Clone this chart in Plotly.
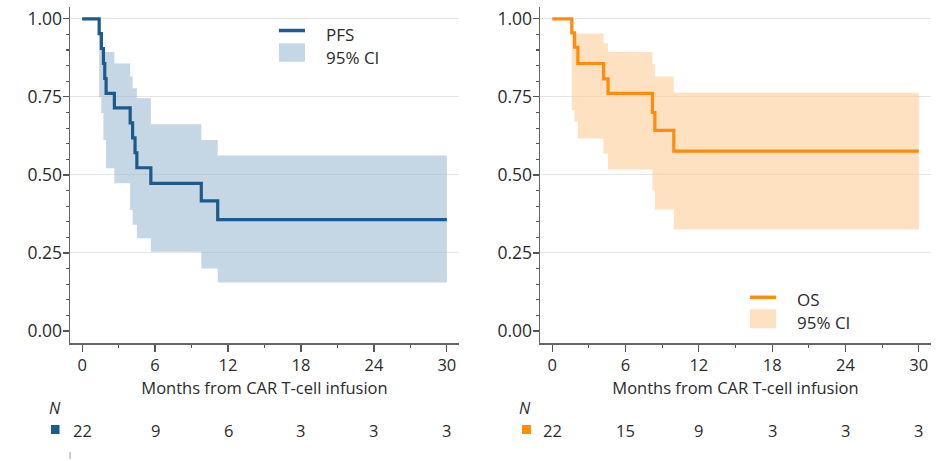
import plotly.graph_objects as go

# ---------------- data ----------------
PFS_T = [0, 1.4, 1.58, 1.75, 1.86, 1.97, 2.65, 3.95, 4.15, 4.35, 4.5, 5.65, 9.8, 11.15]
PFS_S = [1.0, 0.953, 0.905, 0.857, 0.809, 0.761, 0.715, 0.667, 0.619, 0.571, 0.523, 0.473, 0.417, 0.357]
PFS_HI = [1.0, 0.953, 0.905, 0.894, 0.894, 0.894, 0.857, 0.815, 0.778, 0.778, 0.746, 0.662, 0.612, 0.562]
PFS_LO = [1.0, 0.75, 0.698, 0.612, 0.612, 0.521, 0.473, 0.388, 0.34, 0.34, 0.297, 0.254, 0.2, 0.155]

OS_T = [0, 1.6, 1.83, 2.1, 4.2, 4.57, 8.2, 8.4, 9.95]
OS_S = [1.0, 0.955, 0.909, 0.857, 0.808, 0.761, 0.70, 0.643, 0.576]
OS_HI = [1.0, 0.955, 0.953, 0.953, 0.922, 0.894, 0.855, 0.815, 0.763]
OS_LO = [1.0, 0.708, 0.671, 0.617, 0.569, 0.517, 0.45, 0.389, 0.325]

T_END = 30
RISK_TIMES = [0, 6, 12, 18, 24, 30]
PFS_N = [22, 9, 6, 3, 3, 3]
OS_N = [22, 15, 9, 3, 3, 3]
Y_TICKS = [0, 0.25, 0.5, 0.75, 1.0]

# ---------------- styles / layout helpers ----------------
FONT = "Open Sans"
TXT = "#2b2b2b"
BLUE = "#1b5a8a"
BLUE_BAND = "rgba(150,180,205,0.55)"
ORANGE = "#ff8c0a"
ORANGE_BAND = "rgba(251,195,130,0.5)"

W, H, OFF = 938, 461, 0  # body margin removed via post_script


def fx(px):
    return (px - OFF) / W


def fy(py):
    return 1 - (py - OFF) / H


fig = go.Figure()


def add_km(t, s, hi, lo, color, band, xa, ya):
    x = list(t) + [T_END]
    fig.add_trace(go.Scatter(x=x, y=list(hi) + [hi[-1]], mode="lines", line=dict(width=0, shape="hv"),
                             hoverinfo="skip", showlegend=False, xaxis=xa, yaxis=ya))
    fig.add_trace(go.Scatter(x=x, y=list(lo) + [lo[-1]], mode="lines", line=dict(width=0, shape="hv"),
                             fill="tonexty", fillcolor=band, hoverinfo="skip", showlegend=False,
                             xaxis=xa, yaxis=ya))
    fig.add_trace(go.Scatter(x=x, y=list(s) + [s[-1]], mode="lines", line=dict(color=color, width=3.2, shape="hv"),
                             showlegend=False, xaxis=xa, yaxis=ya))


add_km(PFS_T, PFS_S, PFS_HI, PFS_LO, BLUE, BLUE_BAND, "x", "y")
add_km(OS_T, OS_S, OS_HI, OS_LO, ORANGE, ORANGE_BAND, "x2", "y2")

xcommon = dict(range=[-1, 31], tickvals=RISK_TIMES, ticks="outside", ticklen=7, tickwidth=1.2,
               tickcolor="#555", showline=True, linecolor="#666", linewidth=1.5, showgrid=False,
               zeroline=False, minor=dict(dtick=3, tick0=0, ticks="outside", ticklen=3, tickcolor="#555",
                                          tickwidth=1.2),
               tickfont=dict(family=FONT, size=16.5, color=TXT),
               title=dict(text="Months from CAR T-cell infusion", font=dict(family=FONT, size=16.5, color=TXT),
                          standoff=5),
               automargin=False, fixedrange=True)
ycommon = dict(range=[-0.0385, 1.038], tickvals=Y_TICKS, tickformat=".2f", ticks="outside", ticklen=6,
               tickwidth=1.2, tickcolor="#555", showline=True, linecolor="#666", linewidth=1.5,
               showgrid=True, gridcolor="#e6e6e6", gridwidth=1, zeroline=True, zerolinecolor="white",
               zerolinewidth=1, ticklabelstandoff=-3,
               minor=dict(dtick=0.05, tick0=0, ticks="outside", ticklen=3, tickcolor="#555", tickwidth=1.2,
                          showgrid=False),
               tickfont=dict(family=FONT, size=17.5, color=TXT), automargin=False, fixedrange=True,
               domain=[fy(343), fy(7)])

fig.update_layout(
    width=W, height=H,
    margin=dict(l=0, r=0, t=0, b=0),
    paper_bgcolor="white", plot_bgcolor="white",
    showlegend=False,
    xaxis=dict(xcommon, domain=[fx(70), fx(459)], anchor="y"),
    yaxis=dict(ycommon, anchor="x"),
    xaxis2=dict(xcommon, domain=[fx(540), fx(931)], anchor="y2"),
    yaxis2=dict(ycommon, anchor="x2"),
)

shapes = []
annotations = []


def legend(xa, ya, label, color, band, y_line, y_txt, y_sw0, y_sw1, y_ci):
    xr = xa + " domain"
    yr = ya + " domain"
    shapes.append(dict(type="line", xref=xr, yref=yr, x0=0.537, x1=0.604, y0=y_line, y1=y_line,
                       line=dict(color=color, width=3.5)))
    shapes.append(dict(type="rect", xref=xr, yref=yr, x0=0.537, x1=0.604, y0=y_sw0, y1=y_sw1,
                       line=dict(width=0), fillcolor=band))
    annotations.append(dict(xref=xr, yref=yr, x=0.652, y=y_txt, text=label, showarrow=False,
                            xanchor="left", yanchor="middle", font=dict(family=FONT, size=17, color=TXT)))
    annotations.append(dict(xref=xr, yref=yr, x=0.652, y=y_ci, text="95% CI", showarrow=False,
                            xanchor="left", yanchor="middle", font=dict(family=FONT, size=17, color=TXT)))


legend("x", "y", "PFS", BLUE, BLUE_BAND, 0.930, 0.918, 0.837, 0.892, 0.850)
legend("x2", "y2", "OS", ORANGE, ORANGE_BAND, 0.136, 0.128, 0.044, 0.1006, 0.061)


def risk_row(xa, counts, color, sq_x0, sq_x1, n_x):
    annotations.append(dict(xref="paper", yref="paper", x=fx(n_x), y=fy(408), text="<i>N</i>", showarrow=False,
                            xanchor="center", yanchor="middle", font=dict(family=FONT, size=16, color=TXT)))
    shapes.append(dict(type="rect", xref="paper", yref="paper", x0=fx(sq_x0), x1=fx(sq_x1), y0=fy(434),
                       y1=fy(425), line=dict(width=0), fillcolor=color))
    for tv, n in zip(RISK_TIMES, counts):
        annotations.append(dict(xref=xa, yref="paper", x=tv, y=fy(430), text=str(n), showarrow=False,
                                xanchor="center", yanchor="middle",
                                font=dict(family=FONT, size=16.5, color=TXT)))


risk_row("x", PFS_N, BLUE, 51, 59.5, 55)
risk_row("x2", OS_N, ORANGE, 522, 531, 525)

shapes.append(dict(type="line", xref="paper", yref="paper", x0=fx(70), x1=fx(70), y0=fy(452),
                   y1=fy(459), line=dict(color="#999", width=1)))

fig.update_layout(shapes=shapes, annotations=annotations)
fig.write_html("out.html",
               config={"displayModeBar": False, "staticPlot": True},
               post_script="document.body.style.margin='0';document.body.style.padding='0';"
                           "document.body.style.overflow='hidden';")
